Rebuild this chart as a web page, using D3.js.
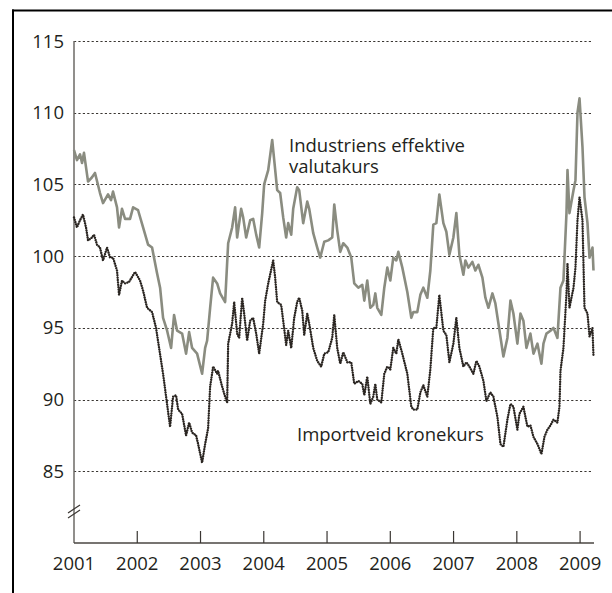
<!DOCTYPE html>
<html>
<head>
<meta charset="utf-8">
<script src="https://cdn.jsdelivr.net/npm/d3@7"></script>
<style>
  html, body { margin: 0; padding: 0; background: #fff; }
  svg { display: block; }
  text { font-family: "Open Sans", "Noto Sans", sans-serif; fill: #231f20; }
</style>
</head>
<body>
<svg id="chart" width="612" height="593"></svg>
<script>
// ---- data (decimal years, index values) ----
const yTicks = [85, 90, 95, 100, 105, 110, 115];
const xTicks = [2001, 2002, 2003, 2004, 2005, 2006, 2007, 2008, 2009];
const seriesNames = ["Industriens effektive valutakurs", "Importveid kronekurs"];

const industriT = [2001.000,2001.047,2001.095,2001.127,2001.158,2001.222,2001.285,2001.332,2001.411,2001.459,2001.538,2001.585,2001.617,2001.680,2001.712,2001.759,2001.807,2001.886,2001.934,2002.013,2002.092,2002.171,2002.234,2002.313,2002.361,2002.408,2002.472,2002.535,2002.582,2002.630,2002.709,2002.772,2002.820,2002.867,2002.946,2003.025,2003.073,2003.104,2003.152,2003.199,2003.263,2003.310,2003.389,2003.437,2003.500,2003.547,2003.579,2003.642,2003.674,2003.722,2003.785,2003.832,2003.880,2003.927,2003.975,2004.006,2004.070,2004.133,2004.165,2004.212,2004.259,2004.307,2004.354,2004.386,2004.434,2004.465,2004.528,2004.560,2004.623,2004.687,2004.718,2004.782,2004.845,2004.892,2004.956,2005.019,2005.082,2005.114,2005.161,2005.209,2005.256,2005.320,2005.383,2005.430,2005.494,2005.557,2005.589,2005.636,2005.684,2005.731,2005.763,2005.794,2005.858,2005.905,2005.953,2006.000,2006.047,2006.095,2006.127,2006.190,2006.269,2006.332,2006.364,2006.427,2006.475,2006.522,2006.585,2006.633,2006.680,2006.728,2006.775,2006.839,2006.886,2006.934,2006.997,2007.044,2007.092,2007.155,2007.187,2007.234,2007.297,2007.345,2007.392,2007.456,2007.503,2007.551,2007.614,2007.661,2007.709,2007.788,2007.851,2007.899,2007.946,2008.009,2008.057,2008.104,2008.152,2008.215,2008.263,2008.326,2008.389,2008.421,2008.468,2008.532,2008.579,2008.642,2008.690,2008.737,2008.785,2008.801,2008.832,2008.896,2008.927,2008.959,2008.991,2009.038,2009.070,2009.117,2009.149,2009.196,2009.212];
const industriV = [107.4,106.7,107.1,106.5,107.2,105.2,105.5,105.8,104.4,103.7,104.3,103.9,104.5,103.4,102.0,103.3,102.6,102.6,103.4,103.2,102.0,100.8,100.6,98.8,97.8,95.7,94.8,93.6,95.9,94.8,94.6,93.2,94.7,93.6,93.2,91.8,93.6,94.1,96.4,98.5,98.1,97.4,96.8,100.9,102.0,103.4,101.3,103.3,102.7,101.3,102.5,102.6,101.5,100.6,103.0,105.0,106.0,108.1,106.7,104.6,104.4,102.7,101.3,102.3,101.5,103.3,104.8,104.6,102.3,103.8,103.3,101.6,100.6,99.9,101.0,101.1,101.3,103.6,101.8,100.3,100.9,100.6,99.9,98.1,97.8,98.0,96.9,98.3,96.4,96.6,97.4,96.4,95.9,97.8,99.2,98.3,99.9,99.7,100.3,99.2,97.5,95.7,96.1,96.1,97.3,97.8,97.1,99.0,102.2,102.3,104.3,102.3,101.7,100.1,101.3,103.0,100.1,98.7,99.7,99.2,99.6,99.0,99.4,98.5,97.1,96.4,97.4,96.7,95.3,93.0,94.3,96.9,96.0,93.9,96.0,95.5,93.6,94.6,93.2,93.9,92.5,93.9,94.6,94.8,95.0,94.3,97.8,98.3,103.0,106.0,103.0,104.6,105.3,110.0,111.0,107.6,104.1,102.3,99.9,100.6,99.0];

const importT = [2001.000,2001.047,2001.095,2001.142,2001.190,2001.222,2001.285,2001.316,2001.364,2001.411,2001.459,2001.522,2001.570,2001.617,2001.680,2001.712,2001.759,2001.807,2001.870,2001.965,2002.044,2002.092,2002.155,2002.234,2002.297,2002.345,2002.408,2002.456,2002.519,2002.566,2002.614,2002.646,2002.709,2002.772,2002.820,2002.867,2002.930,2002.962,2003.025,2003.073,2003.120,2003.152,2003.199,2003.263,2003.278,2003.342,2003.389,2003.421,2003.437,2003.500,2003.532,2003.579,2003.611,2003.658,2003.690,2003.737,2003.785,2003.832,2003.880,2003.927,2003.991,2004.022,2004.070,2004.149,2004.180,2004.212,2004.275,2004.307,2004.354,2004.386,2004.434,2004.481,2004.528,2004.560,2004.608,2004.639,2004.687,2004.718,2004.782,2004.845,2004.908,2004.956,2005.019,2005.082,2005.114,2005.161,2005.209,2005.256,2005.320,2005.383,2005.430,2005.494,2005.557,2005.589,2005.636,2005.684,2005.731,2005.763,2005.794,2005.858,2005.905,2005.953,2006.000,2006.047,2006.095,2006.127,2006.190,2006.269,2006.332,2006.364,2006.427,2006.475,2006.522,2006.585,2006.633,2006.680,2006.728,2006.775,2006.839,2006.886,2006.934,2006.997,2007.044,2007.092,2007.155,2007.203,2007.250,2007.313,2007.361,2007.408,2007.472,2007.519,2007.582,2007.630,2007.693,2007.741,2007.788,2007.851,2007.899,2007.946,2008.009,2008.041,2008.104,2008.168,2008.215,2008.263,2008.326,2008.389,2008.437,2008.484,2008.532,2008.579,2008.642,2008.674,2008.690,2008.737,2008.785,2008.801,2008.832,2008.896,2008.927,2008.959,2008.991,2009.038,2009.070,2009.117,2009.149,2009.196,2009.212];
const importV = [102.7,102.0,102.5,102.9,102.0,101.1,101.3,101.5,100.8,100.6,99.7,100.6,99.9,99.9,99.0,97.3,98.3,98.1,98.2,98.9,98.3,97.6,96.4,96.1,95.0,93.6,91.8,90.2,88.1,90.2,90.3,89.3,89.0,87.5,88.4,87.7,87.5,86.9,85.6,86.9,88.0,90.9,92.3,91.8,92.0,90.9,90.2,89.8,93.9,95.3,96.8,94.6,94.3,97.1,96.0,94.1,95.5,95.7,94.6,93.2,95.3,96.9,98.1,99.7,98.5,96.8,96.6,95.5,93.8,94.8,93.6,95.7,96.8,97.1,96.2,94.5,96.0,95.3,93.6,92.7,92.3,93.2,93.3,94.3,95.9,93.6,92.5,93.3,92.6,92.6,91.1,91.3,91.1,90.3,91.6,89.7,90.2,91.1,90.0,89.8,91.8,92.3,92.1,93.6,93.2,94.2,93.2,91.8,89.5,89.3,89.3,90.5,91.0,90.2,92.1,95.0,95.0,97.3,94.8,94.5,92.6,93.9,95.7,93.6,92.3,92.6,92.3,91.8,92.7,92.3,91.3,89.9,90.5,90.2,88.8,86.9,86.7,88.6,89.7,89.5,87.9,89.0,89.5,88.1,88.2,87.4,86.9,86.2,87.4,87.9,88.2,88.6,88.4,89.5,92.0,93.6,97.4,99.5,96.4,97.8,99.2,102.5,104.1,102.5,96.4,96.0,94.4,95.0,93.0];

// ---- layout ----
const svg = d3.select("#chart");
const mLeft = 74, mRight = 594, mTop = 41, mBottom = 543;
const fontSize = 18.5;

const x = d3.scaleLinear().domain([2001, 2009.22]).range([mLeft, mRight]);
const y = d3.scaleLinear().domain([80, 115]).range([mBottom, mTop]);

// frame (top and left edge)
svg.append("line").attr("x1", 12).attr("x2", 612).attr("y1", 10.5).attr("y2", 10.5)
  .attr("stroke", "#000").attr("stroke-width", 2);
svg.append("line").attr("x1", 13).attr("x2", 13).attr("y1", 9.5).attr("y2", 593)
  .attr("stroke", "#000").attr("stroke-width", 2);

// gridlines
svg.append("g").selectAll("line").data(yTicks).join("line")
  .attr("x1", mLeft).attr("x2", 593)
  .attr("y1", d => Math.round(y(d)) + 0.5).attr("y2", d => Math.round(y(d)) + 0.5)
  .attr("stroke", "#3a3632").attr("stroke-width", 1).attr("stroke-dasharray", "2.2,2.2");

// y axis labels
svg.append("g").selectAll("text").data(yTicks).join("text")
  .attr("x", 64).attr("y", d => y(d) + 6.5)
  .attr("text-anchor", "end").attr("font-size", fontSize).text(d => d);

// y axis line
svg.append("line").attr("x1", mLeft).attr("x2", mLeft).attr("y1", mTop).attr("y2", mBottom)
  .attr("stroke", "#6d6a66").attr("stroke-width", 1.5);

// axis break marks
const yb = y(82.2);
[-2.5, 2.5].forEach(o => {
  svg.append("line")
    .attr("x1", mLeft - 6).attr("y1", yb + o + 4)
    .attr("x2", mLeft + 6).attr("y2", yb + o - 4)
    .attr("stroke", "#3a3632").attr("stroke-width", 1.2);
});

// x axis line
svg.append("line").attr("x1", mLeft).attr("x2", mRight).attr("y1", mBottom).attr("y2", mBottom)
  .attr("stroke", "#4a4642").attr("stroke-width", 1.6);

// x ticks
svg.append("g").selectAll("line").data(xTicks.slice(1)).join("line")
  .attr("x1", d => x(d)).attr("x2", d => x(d))
  .attr("y1", mBottom).attr("y2", mBottom - 12)
  .attr("stroke", "#3a3632").attr("stroke-width", 1.2);

svg.append("g").selectAll("text").data(xTicks).join("text")
  .attr("x", d => x(d)).attr("y", 569.5)
  .attr("text-anchor", "middle").attr("font-size", fontSize).text(d => d);

// lines
const line = d3.line().x(d => x(d[0])).y(d => y(d[1]));
const industri = d3.zip(industriT, industriV);
const imp = d3.zip(importT, importV);

svg.append("path").datum(industri).attr("d", line)
  .attr("fill", "none").attr("stroke", "#8a8c80").attr("stroke-width", 2.6)
  .attr("stroke-linejoin", "round");

svg.append("path").datum(imp).attr("d", line)
  .attr("fill", "none").attr("stroke", "#2a2521").attr("stroke-width", 2.4)
  .attr("stroke-linecap", "round").attr("stroke-dasharray", "0.01,2.4");

// series labels (two separate lines for the first label)
const lab1Lines = ["Industriens effektive", "valutakurs"];
svg.append("g").selectAll("text").data(lab1Lines).join("text")
  .attr("x", 289).attr("y", (d, i) => 152 + i * 21)
  .attr("font-size", fontSize).text(d => d);

svg.append("text").attr("x", 297).attr("y", 441).attr("font-size", fontSize).text(seriesNames[1]);
</script>
</body>
</html>
